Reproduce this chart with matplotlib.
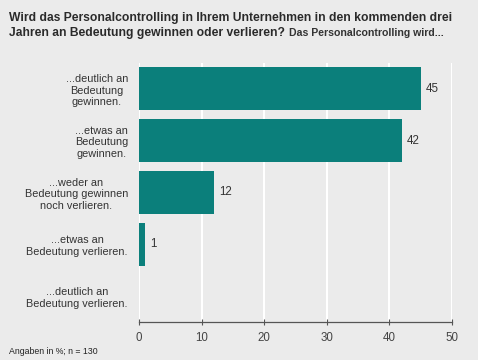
import matplotlib.pyplot as plt

categories = ["...deutlich an\nBedeutung\ngewinnen.",
              "...etwas an\nBedeutung\ngewinnen.",
              "...weder an\nBedeutung gewinnen\nnoch verlieren.",
              "...etwas an\nBedeutung verlieren.",
              "...deutlich an\nBedeutung verlieren."]
values = [45, 42, 12, 1, 0]
xticks = [0, 10, 20, 30, 40, 50]

plt.rcParams['font.family'] = ['Liberation Sans', 'DejaVu Sans']
bg = '#ebebeb'
teal = '#0b7f7b'

fig = plt.figure(figsize=(4.78, 3.6), dpi=100, facecolor=bg)
ax = fig.add_axes([0.2908, 0.1056, 0.6548, 0.7194])
ax.set_facecolor(bg)

pos = list(range(len(values)))
ax.barh(pos, values, height=0.83, color=teal, zorder=3)
for p, v in zip(pos, values):
    if v > 0:
        ax.text(v + 0.8, p, str(v), va='center', ha='left', fontsize=8.3, color='#333333')

ax.set_xlim(0, 50)
ax.set_ylim(4.5, -0.5)
ax.set_xticks(xticks)
ax.set_xticklabels([str(t) for t in xticks], fontsize=8.3, color='#444444')
ax.set_yticks(pos)
ax.set_yticklabels(categories, fontsize=7.8, color='#333333', linespacing=1.2,
                   multialignment='center')
ax.tick_params(axis='y', length=0, pad=8)
ax.tick_params(axis='x', length=4, width=0.8, color='#555555', direction='inout', pad=5)
ax.grid(axis='x', color='white', linewidth=1.5, zorder=0)
for s in ['top', 'right', 'left']:
    ax.spines[s].set_visible(False)
ax.spines['bottom'].set_color('#555555')
ax.spines['bottom'].set_linewidth(0.9)

fig.text(0.019, 0.966, "Wird das Personalcontrolling in Ihrem Unternehmen in den kommenden drei",
         fontsize=8.7, fontweight='bold', color='#2a2a2a', va='top', ha='left')
t = fig.text(0.019, 0.926, "Jahren an Bedeutung gewinnen oder verlieren?",
             fontsize=8.7, fontweight='bold', color='#2a2a2a', va='top', ha='left')
fig.canvas.draw()
bb = t.get_window_extent()
x2 = fig.transFigure.inverted().transform((bb.x1, bb.y0))[0]
fig.text(x2 + 0.008, 0.923, "Das Personalcontrolling wird...",
         fontsize=7.6, fontweight='bold', color='#333333', va='top', ha='left')

fig.text(0.019, 0.010, "Angaben in %; n = 130", fontsize=6.3, color='#222222',
         va='bottom', ha='left')

fig.savefig('out.png', dpi=100, facecolor=bg)
